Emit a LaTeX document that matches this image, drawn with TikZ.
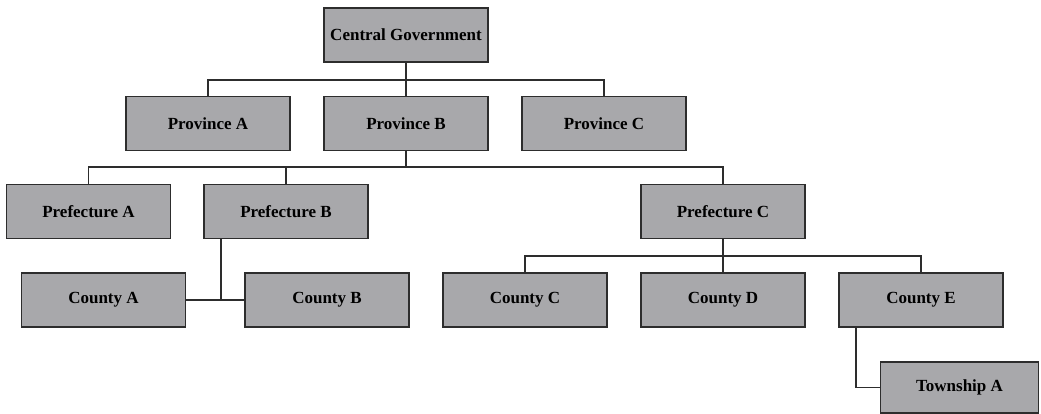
\documentclass[tikz,border=0pt]{standalone}
\usepackage{fontspec}
\setmainfont{Liberation Serif}
\usetikzlibrary{positioning}
\definecolor{boxgray}{RGB}{168,168,171}
\definecolor{edgegray}{RGB}{45,45,45}
\tikzset{
  unit/.style={draw=edgegray,fill=boxgray,line width=1.2pt,minimum width=164pt,minimum height=54pt,
    inner sep=0pt,font=\fontsize{17}{20}\selectfont\bfseries},
  link/.style={draw=edgegray,line width=1.2pt}
}

\begin{document}
\begin{tikzpicture}[x=1pt,y=-1pt]
    \fill[white] (0,0) rectangle (1041,414);
    \useasboundingbox (0,0) rectangle (1041,414);
    % boxes
    \node[unit] (cg) at (406,35) {Central Government};
    \node[unit] (provA) at (208,123.5) {Province A};
    \node[unit] (provB) at (406,123.5) {Province B};
    \node[unit] (provC) at (604,123.5) {Province C};
    \node[unit] (prefA) at (88.5,211.5) {Prefecture A};
    \node[unit] (prefB) at (286,211.5) {Prefecture B};
    \node[unit] (prefC) at (723,211.5) {Prefecture C};
    \node[unit] (cntA) at (103.5,300) {County A};
    \node[unit] (cntB) at (327,300) {County B};
    \node[unit] (cntC) at (525,300) {County C};
    \node[unit] (cntD) at (723,300) {County D};
    \node[unit] (cntE) at (921,300) {County E};
    \node[unit,minimum width=158pt,minimum height=51pt] (townA) at (959.5,387.5) {Township A};
    % junctions
    \coordinate (bus1) at (406,80);
    \coordinate (bus2) at (406,167);
    \coordinate (bus3) at (723,256);
    \coordinate (jb) at (221,300);
    \coordinate (jt) at (856,387.5);
    % lines
    \draw[link] (cg.south) -- (provB.north);
    \draw[link] (provA.north) |- (bus1) -| (provC.north);
    \draw[link] (provB.south) -- (bus2);
    \draw[link] (prefA.north) |- (bus2) -| (prefC.north);
    \draw[link] (prefB.north) -- (prefB.north |- bus2);
    \draw[link] (cntA.east) -- (cntB.west);
    \draw[link] (jb |- prefB.south) -- (jb);
    \draw[link] (prefC.south) -- (cntD.north);
    \draw[link] (cntC.north) |- (bus3) -| (cntE.north);
    \draw[link] (jt |- cntE.south) -- (jt) -- (townA.west);
\end{tikzpicture}
\end{document}
